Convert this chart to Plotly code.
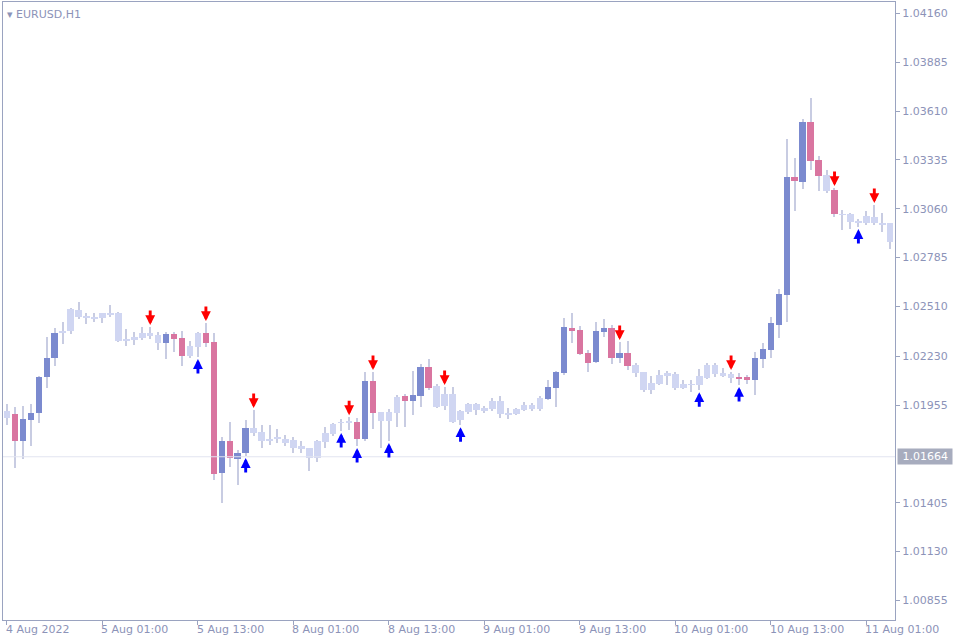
import plotly.graph_objects as go

# EURUSD H1 candles (index 0 = 4 Aug 2022 13:00)
opens = [1.01882, 1.01904, 1.01752, 1.01871, 1.01910, 1.02113, 1.02220, 1.02360, 1.02372, 1.02490,
         1.02450, 1.02450, 1.02445, 1.02462, 1.02473, 1.02315, 1.02321, 1.02332, 1.02360, 1.02349,
         1.02304, 1.02355, 1.02332, 1.02231, 1.02282, 1.02360, 1.02310, 1.01572, 1.01752, 1.01651,
         1.01685, 1.01826, 1.01804, 1.01753, 1.01764, 1.01764, 1.01759, 1.01724, 1.01714, 1.01657,
         1.01747, 1.01792, 1.01854, 1.01854, 1.01859, 1.01764, 1.02090, 1.01916, 1.01865, 1.01910,
         1.02006, 1.01978, 1.02006, 1.02169, 1.02062, 1.01949, 1.02017, 1.01871, 1.01916, 1.01961,
         1.01927, 1.01932, 1.01978, 1.01904, 1.01904, 1.01927, 1.01955, 1.01932, 1.01989, 1.02051,
         1.02135, 1.02389, 1.02377, 1.02248, 1.02197, 1.02366, 1.02389, 1.02220, 1.02248, 1.02180,
         1.02141, 1.02039, 1.02073, 1.02118, 1.02130, 1.02073, 1.02068, 1.02068, 1.02107, 1.02180,
         1.02135, 1.02130, 1.02113, 1.02113, 1.02096, 1.02214, 1.02265, 1.02405, 1.02574, 1.03239,
         1.03210, 1.03548, 1.03334, 1.03250, 1.03165, 1.03030, 1.03030, 1.02985, 1.02980, 1.02980,
         1.02980, 1.02980]
highs = [1.01961, 1.01944, 1.01949, 1.01961, 1.02118, 1.02338, 1.02389, 1.02422, 1.02501, 1.02535,
         1.02473, 1.02473, 1.02473, 1.02518, 1.02479, 1.02383, 1.02366, 1.02394, 1.02394, 1.02366,
         1.02366, 1.02366, 1.02372, 1.02315, 1.02366, 1.02417, 1.02360, 1.01775, 1.01859, 1.01702,
         1.01871, 1.01927, 1.01842, 1.01842, 1.01821, 1.01787, 1.01775, 1.01752, 1.01714, 1.01759,
         1.01831, 1.01854, 1.01876, 1.01887, 1.01882, 1.02141, 1.02141, 1.01916, 1.01932, 1.02011,
         1.02017, 1.02146, 1.02186, 1.02214, 1.02073, 1.02056, 1.02056, 1.01927, 1.01966, 1.01966,
         1.01949, 1.01994, 1.02006, 1.01938, 1.01938, 1.01972, 1.01966, 1.02006, 1.02096, 1.02146,
         1.02445, 1.02473, 1.02400, 1.02265, 1.02422, 1.02439, 1.02405, 1.02310, 1.02315, 1.02191,
         1.02141, 1.02118, 1.02152, 1.02146, 1.02141, 1.02096, 1.02096, 1.02158, 1.02191, 1.02191,
         1.02163, 1.02141, 1.02135, 1.02124, 1.02253, 1.02304, 1.02450, 1.02608, 1.03453, 1.03346,
         1.03565, 1.03683, 1.03357, 1.03278, 1.03177, 1.03053, 1.03036, 1.03002, 1.03047, 1.03081,
         1.03036, 1.02980]
lows = [1.01842, 1.01600, 1.01651, 1.01724, 1.01854, 1.02051, 1.02175, 1.02298, 1.02355, 1.02439,
        1.02411, 1.02422, 1.02417, 1.02450, 1.02310, 1.02287, 1.02293, 1.02321, 1.02327, 1.02265,
        1.02214, 1.02253, 1.02175, 1.02220, 1.02225, 1.02282, 1.01533, 1.01403, 1.01606, 1.01505,
        1.01668, 1.01780, 1.01713, 1.01730, 1.01741, 1.01724, 1.01685, 1.01685, 1.01583, 1.01634,
        1.01714, 1.01780, 1.01809, 1.01814, 1.01724, 1.01752, 1.01820, 1.01714, 1.01752, 1.01831,
        1.01831, 1.01899, 1.01944, 1.02039, 1.01938, 1.01927, 1.01854, 1.01842, 1.01904, 1.01899,
        1.01910, 1.01921, 1.01882, 1.01876, 1.01899, 1.01921, 1.01921, 1.01921, 1.01983, 1.01944,
        1.02124, 1.02304, 1.02237, 1.02141, 1.02191, 1.02338, 1.02186, 1.02191, 1.02152, 1.02113,
        1.02028, 1.02017, 1.02068, 1.02068, 1.02039, 1.02045, 1.02028, 1.02039, 1.02101, 1.02113,
        1.02113, 1.02079, 1.02068, 1.02073, 1.02011, 1.02163, 1.02220, 1.02332, 1.02422, 1.03047,
        1.03171, 1.03278, 1.03160, 1.03149, 1.03013, 1.02940, 1.02946, 1.02957, 1.02968, 1.02968,
        1.02929, 1.02833]
closes = [1.01921, 1.01752, 1.01876, 1.01910, 1.02113, 1.02220, 1.02360, 1.02372, 1.02495, 1.02450,
          1.02456, 1.02445, 1.02473, 1.02473, 1.02315, 1.02327, 1.02338, 1.02360, 1.02343, 1.02304,
          1.02355, 1.02327, 1.02231, 1.02287, 1.02360, 1.02304, 1.01567, 1.01752, 1.01657, 1.01685,
          1.01826, 1.01798, 1.01753, 1.01764, 1.01775, 1.01741, 1.01714, 1.01713, 1.01657, 1.01752,
          1.01797, 1.01848, 1.01859, 1.01865, 1.01764, 1.02090, 1.01910, 1.01865, 1.01916, 1.02000,
          1.01978, 1.02011, 1.02169, 1.02051, 1.01944, 1.02017, 1.01859, 1.01921, 1.01961, 1.01927,
          1.01938, 1.01978, 1.01904, 1.01910, 1.01932, 1.01955, 1.01932, 1.01994, 1.02056, 1.02141,
          1.02394, 1.02372, 1.02242, 1.02191, 1.02372, 1.02389, 1.02220, 1.02248, 1.02175, 1.02135,
          1.02039, 1.02079, 1.02124, 1.02135, 1.02051, 1.02051, 1.02073, 1.02118, 1.02180, 1.02130,
          1.02124, 1.02107, 1.02107, 1.02096, 1.02220, 1.02270, 1.02417, 1.02580, 1.03239, 1.03216,
          1.03548, 1.03329, 1.03244, 1.03160, 1.03030, 1.03025, 1.02985, 1.02991, 1.03019, 1.03013,
          1.02974, 1.02873]
# candle colour class: B strong up, P strong down, L weak
kinds = ("LPBBBBB" + "L" * 13 + "BPPLLPPBPBB" + "L" * 13 + "PBPLLLPBBP" + "L" * 14
         + "BBBPPPBBPBP" + "L" * 13 + "PPBBBBBPBPPLP" + "L" * 7)
up_arrows = [24, 30, 42, 44, 48, 57, 87, 92, 107]
down_arrows = [18, 25, 31, 43, 46, 55, 77, 91, 104, 109]
x_ticks = [0, 12, 24, 36, 48, 60, 72, 84, 96, 108]
x_labels = ["4 Aug 2022", "5 Aug 01:00", "5 Aug 13:00", "8 Aug 01:00", "8 Aug 13:00",
            "9 Aug 01:00", "9 Aug 13:00", "10 Aug 01:00", "10 Aug 13:00", "11 Aug 01:00"]
y_ticks = [1.04160, 1.03885, 1.03610, 1.03335, 1.03060, 1.02785, 1.02510, 1.02230,
           1.01955, 1.01405, 1.01130, 1.00855]
last_price = 1.01664

colors = {"B": "#7b8acf", "P": "#d975a0", "L": "#d0d6f2"}
idx = list(range(len(opens)))

fig = go.Figure()
fig.add_trace(go.Bar(x=idx, base=lows, y=[h - l for h, l in zip(highs, lows)],
                     width=0.14, marker=dict(color="#c8cce2", line_width=0),
                     hoverinfo="skip"))
for k in "LBP":
    sel = [i for i in idx if kinds[i] == k]
    fig.add_trace(go.Bar(
        x=sel,
        base=[min(opens[i], closes[i]) for i in sel],
        y=[max(abs(closes[i] - opens[i]), 0.00002) for i in sel],
        width=0.82, marker=dict(color=colors[k], line_width=0),
    ))

fig.add_hline(y=last_price, line=dict(color="#e2e4f0", width=1))

for i in down_arrows:
    fig.add_annotation(x=i, y=highs[i], ax=0, ay=-16, yshift=2, text="", showarrow=True,
                       arrowhead=2, arrowsize=0.68, arrowwidth=2.9, arrowcolor="#ff0000")
for i in up_arrows:
    fig.add_annotation(x=i, y=lows[i], ax=0, ay=16, yshift=-2, text="", showarrow=True,
                       arrowhead=2, arrowsize=0.68, arrowwidth=2.9, arrowcolor="#0000ff")

for t, lab in zip(x_ticks, x_labels):
    fig.add_annotation(x=t - 0.4, y=0, yref="paper", text=lab, showarrow=False,
                       xanchor="left", yanchor="top", yshift=-1,
                       font=dict(size=11, color="#8c93b8"))

fig.add_annotation(x=1.0, xref="paper", y=last_price, text=" 1.01664 ", showarrow=False,
                   xanchor="left", xshift=2, bgcolor="#a7acbe",
                   font=dict(size=11, color="white"))
fig.add_annotation(x=0, xref="paper", y=1, yref="paper", text="▾ EURUSD,H1", showarrow=False,
                   xanchor="left", yanchor="top", xshift=2, yshift=-4,
                   font=dict(size=11, color="#8c93b8"))

fig.update_layout(
    width=960, height=640, barmode="overlay", showlegend=False, bargap=0,
    plot_bgcolor="white", paper_bgcolor="white",
    margin=dict(l=3, r=65, t=2, b=20, autoexpand=False),
    font=dict(family="DejaVu Sans", size=11, color="#8c93b8"),
)
fig.update_xaxes(range=[-0.5, 111.6], showgrid=False, zeroline=False, automargin=False,
                 tickvals=x_ticks, ticktext=[""] * len(x_ticks), ticks="outside", ticklen=4,
                 tickcolor="#9aa3c0", showline=True, linecolor="#9aa3c0", mirror=True)
fig.update_yaxes(range=[1.00745, 1.04224], side="right", showgrid=False, zeroline=False,
                 automargin=False,
                 tickvals=y_ticks, ticktext=[f"{v:.5f}" for v in y_ticks],
                 ticks="outside", ticklen=4, tickcolor="#9aa3c0",
                 showline=True, linecolor="#9aa3c0", mirror=True)

fig.write_html("out.html", config={"displayModeBar": False},
               post_script="document.body.style.margin='0';")
